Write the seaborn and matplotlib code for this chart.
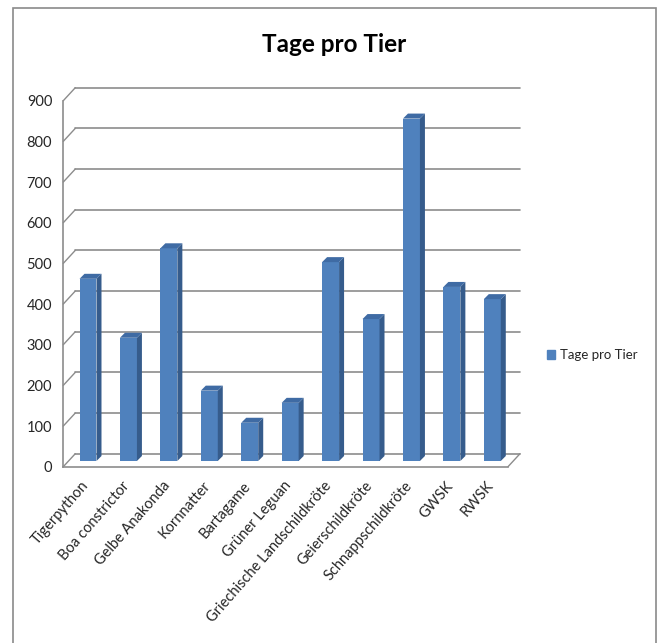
import numpy as np
import pandas as pd
import matplotlib
matplotlib.use("Agg")
import matplotlib.pyplot as plt
import matplotlib.transforms as mtransforms
from matplotlib.patches import Polygon, Rectangle, Patch
import seaborn as sns

# data
tiere = ["Tigerpython", "Boa constrictor", "Gelbe Anakonda", "Kornnatter",
         "Bartagame", "Grüner Leguan", "Griechische Landschildkröte",
         "Geierschildkröte", "Schnappschildkröte", "GWSK", "RWSK"]
tage = [448, 303, 523, 173, 94, 143, 489, 349, 842, 428, 398]
y_ticks = list(range(0, 1000, 100))
titel = "Tage pro Tier"

FRONT = "#4F81BD"
SIDE = "#365C8C"
TOP = "#3F6BA4"
GRID = "#8C8C8C"
TEXT = "#262626"

sns.set_style("white")
plt.rcParams["font.family"] = ["Lato", "DejaVu Sans"]

fig = plt.figure(figsize=(6.62, 6.43), dpi=100)
ax = fig.add_axes([0.0956, 0.2742, 0.6718, 0.5692])

df = pd.DataFrame({"Tier": tiere, "Tage": tage})
sns.barplot(data=df, x="Tier", y="Tage", ax=ax, color=FRONT, width=0.42,
            saturation=1, linewidth=0, zorder=3)
ax.set_xlim(-0.5, len(tiere) - 0.5)
ax.set_ylim(0, 900)
ax.set_yticks(y_ticks)
ax.set_xlabel("")
ax.set_ylabel("")

# pixel -> data unit helpers (dpi = 100)
fig.canvas.draw()
p0 = ax.transData.transform((0, 0))
px_x = ax.transData.transform((1, 0))[0] - p0[0]
px_y = (ax.transData.transform((0, 100))[1] - p0[1]) / 100.0

def shift(dx, dy):
    return ax.transData + mtransforms.ScaledTranslation(dx / 100, dy / 100, fig.dpi_scale_trans)

# back wall gridlines + left diagonals
wall_dx, wall_dy = 12, 13
x_lo, x_hi = ax.get_xlim()
for v in y_ticks:
    ax.plot([x_lo, x_hi], [v, v], color=GRID, lw=1.2, zorder=1,
            transform=shift(wall_dx, wall_dy), clip_on=False)
    ax.plot([x_lo, x_lo + wall_dx / px_x], [v, v + wall_dy / px_y],
            color=GRID, lw=1.0, zorder=1, clip_on=False)
ax.plot([x_hi, x_hi + wall_dx / px_x], [0, wall_dy / px_y],
        color=GRID, lw=1.0, zorder=1, clip_on=False)

# pseudo 3D bars: move front faces into the middle of the depth, add side + top
bar_shift = shift(4.5, 5.7)
depth_x, depth_y = 5 / px_x, 5 / px_y
for p in list(ax.patches):
    p.set_transform(bar_shift)
    p.set_clip_on(False)
    x0, w, h = p.get_x(), p.get_width(), p.get_height()
    x1 = x0 + w
    side = Polygon([(x1, 0), (x1, h), (x1 + depth_x, h + depth_y), (x1 + depth_x, depth_y)],
                   closed=True, facecolor=SIDE, edgecolor="none", zorder=3,
                   transform=bar_shift, clip_on=False)
    top = Polygon([(x0, h), (x1, h), (x1 + depth_x, h + depth_y), (x0 + depth_x, h + depth_y)],
                  closed=True, facecolor=TOP, edgecolor="none", zorder=3,
                  transform=bar_shift, clip_on=False)
    ax.add_patch(side)
    ax.add_patch(top)

# axes styling
for s in ["top", "right"]:
    ax.spines[s].set_visible(False)
for s in ["left", "bottom"]:
    ax.spines[s].set_color(GRID)
    ax.spines[s].set_linewidth(1.2)

ax.set_xticks(np.arange(x_lo, x_hi + 0.01, 1), minor=True)
ax.tick_params(axis="x", which="major", length=0, pad=12)
ax.tick_params(axis="x", which="minor", length=5, color=GRID, width=1.2, direction="out")
ax.tick_params(axis="y", length=5, color=GRID, width=1.2, direction="out",
               labelsize=10.5, labelcolor=TEXT, pad=3)
ax.set_xticks(range(len(tiere)))
ax.set_xticklabels(tiere, rotation=49, ha="right", va="center",
                   rotation_mode="anchor", fontsize=10.5, color=TEXT)
label_nudge = mtransforms.ScaledTranslation(3 / 100, 0, fig.dpi_scale_trans)
for lbl in ax.get_xticklabels():
    lbl.set_transform(lbl.get_transform() + label_nudge)

# title, legend, chart border
fig.text(0.5045, 1 - 45 / 643, titel, ha="center", va="center",
         fontsize=17.5, fontweight="bold", color="black")
fig.legend(handles=[Patch(color=FRONT, label=titel)], loc="center left",
           bbox_to_anchor=(547 / 662, 1 - 355 / 643), frameon=False,
           handlelength=0.6, handleheight=0.6, handletextpad=0.4,
           borderpad=0, borderaxespad=0, fontsize=9.5, labelcolor=TEXT)
fig.patches.append(Rectangle((13 / 662, -0.02), 643 / 662, 1 - 8 / 643 + 0.02,
                             transform=fig.transFigure, fill=False,
                             edgecolor="#8A8A8A", lw=1.2))

fig.savefig("out.png", dpi=100)
